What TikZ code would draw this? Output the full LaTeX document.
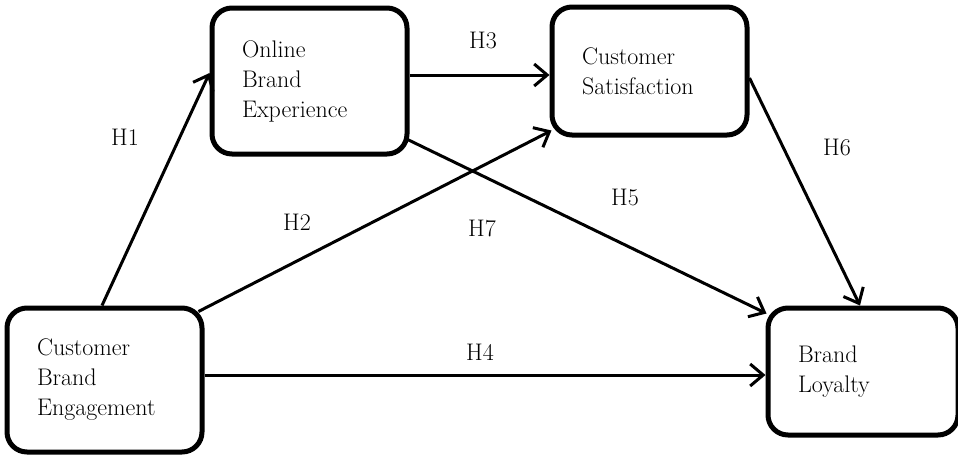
\documentclass[tikz,border=0pt]{standalone}
\usepackage{tikz}
\usetikzlibrary{positioning,arrows.meta,calc}

\begin{document}
\begin{tikzpicture}[x=1pt,y=-1pt,
  font=\fontsize{24}{30}\selectfont,
  >={Straight Barb[length=13pt,width=22pt]},
  var/.style={draw,line width=5pt,rounded corners=20pt,align=left,inner xsep=30pt,inner ysep=0pt},
  hyp/.style={->,line width=3pt},
  lbl/.style={inner sep=0pt}]
\useasboundingbox (0,0) rectangle (958,456);
% constructs
\node[var,text width=135pt,minimum height=146pt] (obe) at (309.5,81) {Online\\Brand\\Experience};
\node[var,text width=135pt,minimum height=128pt] (cs) at (649.5,71) {Customer\\Satisfaction};
\node[var,text width=135pt,minimum height=144pt] (cbe) at (104.5,380) {Customer\\Brand\\Engagement};
\node[var,text width=130pt,minimum height=127pt] (bl) at (863,371.5) {Brand\\Loyalty};
% paths
\coordinate (h3s) at ([yshift=6pt]obe.east);
\coordinate (h4s) at ([yshift=5pt]cbe.east);
\draw[hyp] ([xshift=-2.5pt]cbe.north) -- ([yshift=8pt]obe.west);
\draw[hyp] ($(cbe.north east)+(-6,6)$) -- ($(cs.south west)+(2,-7)$);
\draw[hyp] (h3s) -- (h3s -| cs.west);
\draw[hyp] (h4s) -- (h4s -| bl.west);
\draw[hyp] ($(obe.south east)+(-4,-18)$) -- ($(bl.north west)+(1,8)$);
\draw[hyp] ([yshift=-7pt]cs.east) -- ([xshift=-3pt]bl.north);
% hypotheses
\node[lbl] (h1) at (125,137) {H1};
\node[lbl] (h2) at (297,222) {H2};
\node[lbl] (h3) at (483,40) {H3};
\node[lbl] (h4) at (480,352) {H4};
\node[lbl] (h5) at (625,197) {H5};
\node[lbl] (h6) at (837,147) {H6};
\node[lbl] (h7) at (482,228) {H7};
\end{tikzpicture}
\end{document}
